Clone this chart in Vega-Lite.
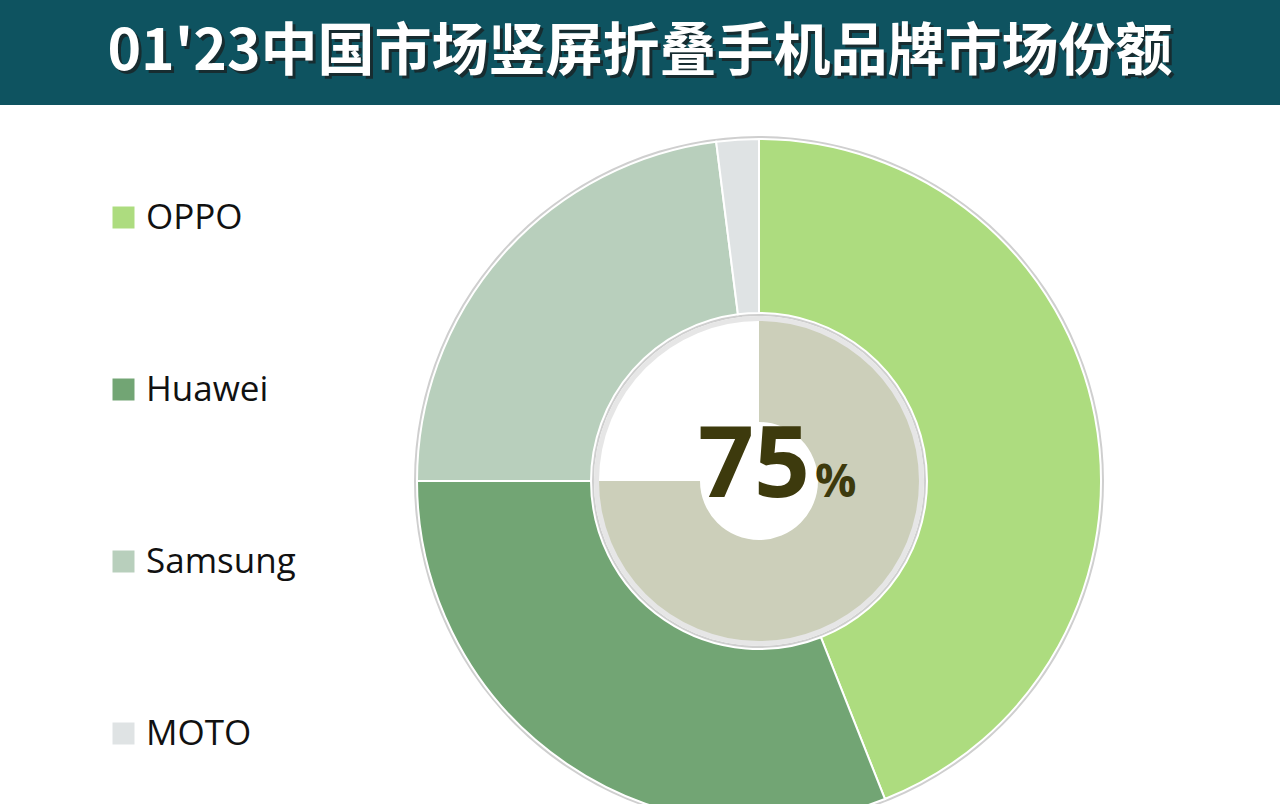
{
  "$schema": "https://vega.github.io/schema/vega-lite/v6.json",
  "description": "Q1 2023 China vertical foldable phone brand market share",
  "background": "white",
  "padding": 0,
  "config": {"view": {"stroke": null}, "font": "Open Sans"},
  "datasets": {
    "brands": [
      {"brand": "OPPO", "share": 44},
      {"brand": "Huawei", "share": 31},
      {"brand": "Samsung", "share": 23},
      {"brand": "MOTO", "share": 2}
    ],
    "inner": [
      {"segment": "OPPO+Huawei", "value": 75},
      {"segment": "other", "value": 25}
    ]
  },
  "spacing": 53,
  "bounds": "flush",
  "vconcat": [
    {
      "width": 1280,
      "height": 105,
      "view": {"fill": "#0e5360"},
      "data": {"values": [{"title": "01'23中国市场竖屏折叠手机品牌市场份额"}]},
      "layer": [
        {
          "mark": {"type": "text", "font": "Noto Sans CJK SC", "fontWeight": "bold", "fontSize": 57, "baseline": "middle", "color": "#1c1c1c", "opacity": 0.7, "dx": 3, "dy": 3},
          "encoding": {"text": {"field": "title"}}
        },
        {
          "mark": {"type": "text", "font": "Noto Sans CJK SC", "fontWeight": "bold", "fontSize": 57, "baseline": "middle", "color": "white", "dy": 0},
          "encoding": {"text": {"field": "title"}}
        }
      ]
    },
    {
      "spacing": 0,
      "bounds": "flush",
      "hconcat": [
        {
          "width": 398,
          "height": 646,
          "data": {"values": []},
          "mark": "point"
        },
        {
          "width": 722,
          "height": 646,
          "layer": [
            {
              "data": {"values": [{"ring": "shadow"}]},
              "mark": {"type": "arc", "radius": 345, "radius2": 165, "color": "#cfcfcf"},
              "encoding": {}
            },
            {
              "data": {"name": "brands"},
              "mark": {"type": "arc", "radius": 342, "radius2": 168, "stroke": "white", "strokeWidth": 2},
              "encoding": {
                "theta": {"field": "share", "type": "quantitative", "stack": true},
                "order": {"field": "share", "sort": "descending"},
                "color": {
                  "field": "brand",
                  "type": "nominal",
                  "scale": {
                    "domain": ["OPPO", "Huawei", "Samsung", "MOTO"],
                    "range": ["#addc7f", "#72a574", "#b8cfbc", "#dfe3e4"]
                  },
                  "legend": {
                    "title": null,
                    "orient": "none",
                    "legendX": -292,
                    "legendY": 42,
                    "direction": "vertical",
                    "symbolType": "square",
                    "symbolSize": 484,
                    "symbolStrokeWidth": 0,
                    "labelFont": "Open Sans",
                    "labelFontSize": 35,
                    "labelColor": "#111111",
                    "labelOffset": 5,
                    "rowPadding": 136,
                    "padding": 0
                  }
                }
              }
            },
            {
              "data": {"values": [{"ring": "outline"}]},
              "mark": {"type": "arc", "radius": 165, "radius2": 159, "color": "#e6e6e6"},
              "encoding": {}
            },
            {
              "data": {"name": "inner"},
              "mark": {"type": "arc", "radius": 160, "radius2": 59},
              "encoding": {
                "theta": {"field": "value", "type": "quantitative", "stack": true},
                "order": {"field": "value", "sort": "descending"},
                "color": {
                  "field": "segment",
                  "type": "nominal",
                  "scale": {"domain": ["OPPO+Huawei", "other"], "range": ["#cccfba", "#ffffff"]},
                  "legend": null
                }
              }
            },
            {
              "data": {"name": "inner"},
              "transform": [{"filter": "datum.segment === 'OPPO+Huawei'"}],
              "mark": {"type": "text", "font": "Open Sans", "fontWeight": "bold", "fontSize": 98, "color": "#3d3a0d", "align": "right", "baseline": "alphabetic", "dx": 51, "dy": 16},
              "encoding": {"text": {"field": "value"}}
            },
            {
              "data": {"name": "inner"},
              "transform": [{"filter": "datum.segment === 'OPPO+Huawei'"}],
              "mark": {"type": "text", "font": "Open Sans", "fontWeight": "bold", "fontSize": 46, "color": "#3d3a0d", "align": "left", "baseline": "alphabetic", "dx": 56, "dy": 16, "text": "%"},
              "encoding": {}
            }
          ],
          "resolve": {"scale": {"color": "independent", "theta": "independent"}}
        }
      ]
    }
  ]
}
